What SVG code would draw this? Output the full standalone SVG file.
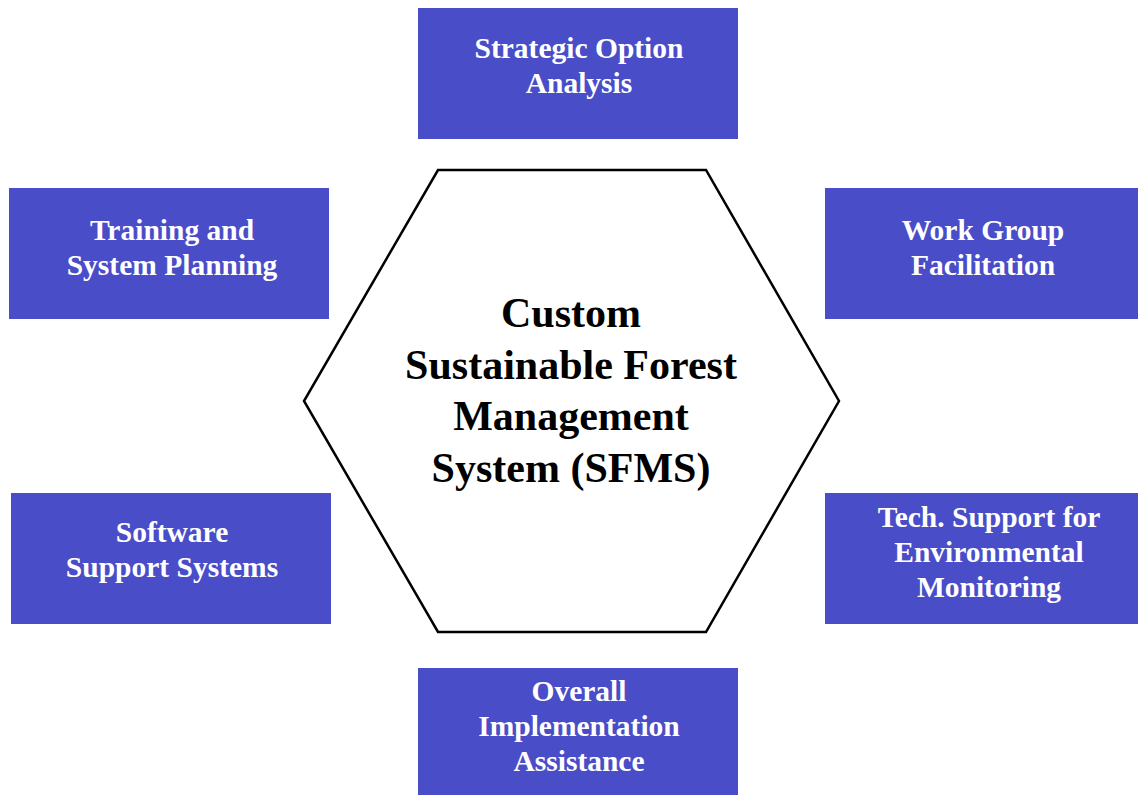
<svg xmlns="http://www.w3.org/2000/svg" width="1138" height="795" viewBox="0 0 1138 795">
<style>
.box{fill:#4A4DC8;}
.bt{font-family:"Liberation Serif","Times New Roman",serif;font-weight:bold;font-size:29.5px;fill:#ffffff;text-anchor:middle;}
.ct{font-family:"Liberation Serif","Times New Roman",serif;font-weight:bold;font-size:42px;fill:#000000;text-anchor:middle;}
</style>
<rect width="1138" height="795" fill="#ffffff"/>
<g id="connectors"></g>
<g id="hub">
<polygon points="438,170 706,170 839,401 706,632 438,632 304,401" fill="#ffffff" stroke="#000000" stroke-width="2.5"/>
<text class="ct" x="571" y="327">Custom</text>
<text class="ct" x="571" y="379">Sustainable Forest</text>
<text class="ct" x="571" y="430">Management</text>
<text class="ct" x="571" y="482">System (SFMS)</text>
</g>
<g id="strategic">
<rect class="box" x="418" y="8" width="320" height="131"/>
<text class="bt" x="579" y="58">Strategic Option</text>
<text class="bt" x="579" y="93">Analysis</text>
</g>
<g id="training">
<rect class="box" x="9" y="188" width="320" height="131"/>
<text class="bt" x="172" y="240">Training and</text>
<text class="bt" x="172" y="275">System Planning</text>
</g>
<g id="workgroup">
<rect class="box" x="825" y="188" width="313" height="131"/>
<text class="bt" x="983" y="240">Work Group</text>
<text class="bt" x="983" y="275">Facilitation</text>
</g>
<g id="software">
<rect class="box" x="11" y="493" width="320" height="131"/>
<text class="bt" x="172" y="542">Software</text>
<text class="bt" x="172" y="577">Support Systems</text>
</g>
<g id="techsupport">
<rect class="box" x="825" y="493" width="313" height="131"/>
<text class="bt" x="989" y="527">Tech. Support for</text>
<text class="bt" x="989" y="562">Environmental</text>
<text class="bt" x="989" y="597">Monitoring</text>
</g>
<g id="overall">
<rect class="box" x="418" y="668" width="320" height="127"/>
<text class="bt" x="579" y="701">Overall</text>
<text class="bt" x="579" y="736">Implementation</text>
<text class="bt" x="579" y="771">Assistance</text>
</g>
</svg>
